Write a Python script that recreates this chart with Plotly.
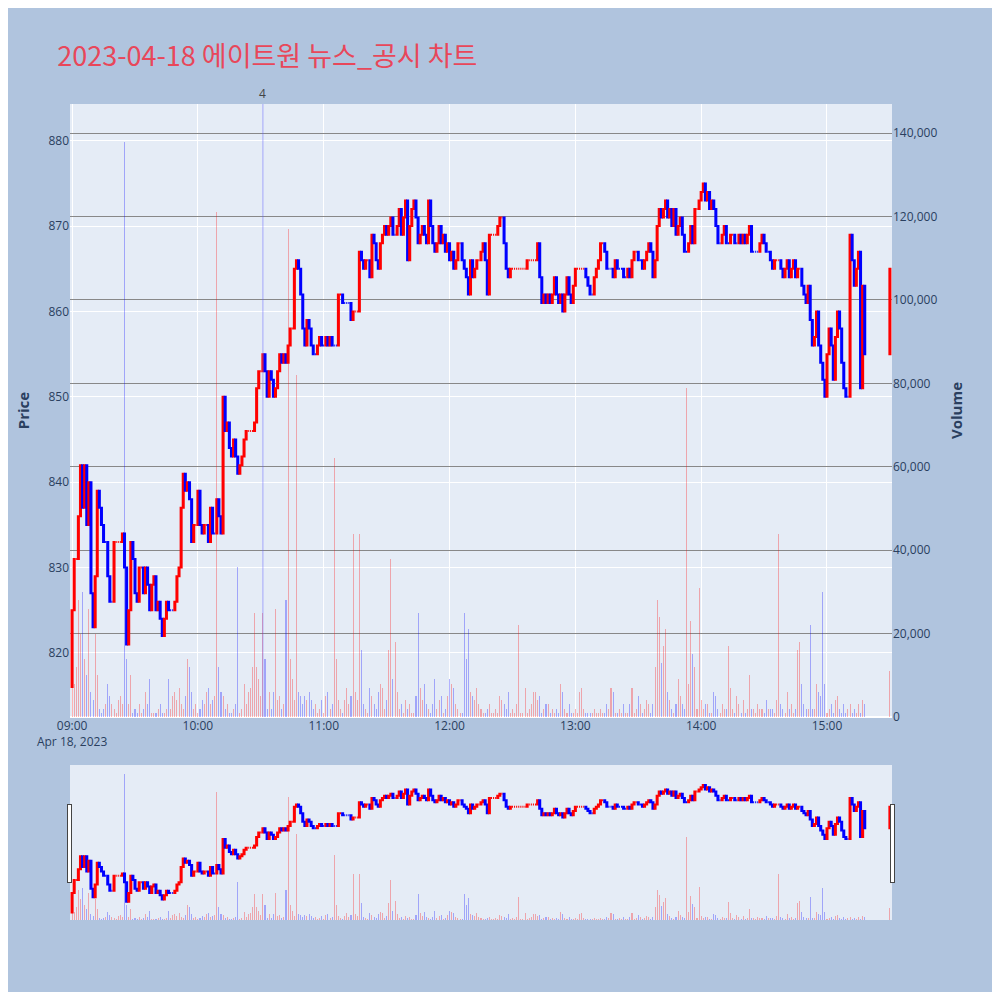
import plotly.graph_objects as go
import pandas as pd

closes = [
825,831,831,836,842,837,842,835,840,827,
823,829,839,837,835,833,833,829,826,826,
833,833,833,833,834,830,821,825,833,831,
827,826,830,830,827,830,828,825,828,829,
825,826,824,822,824,826,825,825,825,826,
829,830,837,841,839,840,838,833,835,835,
839,835,834,835,835,833,837,834,834,838,
836,834,850,846,847,844,843,845,843,841,
842,843,845,846,846,846,846,847,851,853,
853,855,853,850,853,852,850,851,853,855,
854,855,854,856,858,858,865,866,865,862,
858,856,859,858,856,855,855,856,857,856,
856,857,856,857,856,856,856,862,862,861,
861,861,861,859,860,860,860,867,866,865,
866,866,864,869,868,866,865,868,869,870,
869,870,871,869,869,870,872,869,871,873,
866,870,872,873,871,868,869,870,869,868,
873,870,868,867,868,870,868,869,867,868,
866,867,865,866,868,868,866,865,864,862,
866,864,865,866,866,867,868,866,862,869,
869,869,869,870,871,871,868,865,864,865,
865,865,865,865,865,865,865,866,866,866,
866,866,868,864,861,862,861,862,861,862,
864,862,861,862,860,862,864,862,861,863,
865,865,865,865,865,864,863,862,862,864,
865,866,868,868,867,865,865,865,864,866,
865,865,865,864,864,865,864,866,867,867,
866,866,865,866,867,868,867,864,866,870,
872,871,872,873,871,872,870,872,869,870,
871,869,867,867,868,870,868,872,872,873,
874,875,873,874,872,873,872,870,868,868,
869,870,868,868,869,869,868,868,869,868,
869,868,869,870,867,867,867,867,868,869,
868,867,867,866,865,866,866,866,865,864,
865,866,864,865,866,864,865,865,863,862,
861,863,859,856,857,860,856,854,852,850,
855,858,856,852,857,860,858,854,851,850,
850,869,866,863,865,867,851,863,855,
865]

volumes_k = [
18,8,12,28,20,30,14,10,26,6,
4,20,10,2,1,2,3,8,5,3,
2,1,4,5,3,138,14,3,10,1,
2,1,3,1,2,6,3,9,1,1,
1,2,3,1,1,2,9,2,5,6,
4,7,3,2,5,14,12,6,2,3,
1,2,4,3,6,7,3,4,5,121,
12,6,5,2,3,1,1,2,3,36,
1,2,8,3,6,7,12,25,12,9,
5,25,14,2,6,2,6,26,4,5,
2,3,28,117,14,9,4,82,6,5,
3,5,4,6,4,2,3,1,2,4,
1,5,6,2,3,62,14,4,2,1,
4,7,3,5,44,6,4,44,16,3,
2,1,7,5,3,2,6,8,7,2,
4,16,38,9,18,6,2,3,1,4,
2,3,1,1,5,25,7,4,8,3,
2,1,3,9,2,4,5,1,2,5,
9,8,7,3,2,1,1,25,14,21,
6,5,4,7,3,2,1,1,2,3,
1,1,2,1,5,4,3,2,6,1,
2,1,3,22,1,1,7,1,2,3,
6,6,4,5,1,2,3,3,1,2,
1,2,1,8,6,2,1,3,1,1,
2,1,6,7,2,1,1,1,1,2,
1,1,2,1,1,3,2,7,6,1,
1,2,1,3,1,1,3,7,1,2,
5,3,1,2,4,3,1,3,12,28,
24,13,17,21,6,4,2,1,3,9,
5,3,2,79,8,23,15,12,2,31,
4,2,3,3,1,1,6,5,2,1,
3,2,2,17,7,2,1,5,3,1,
4,1,2,10,2,2,1,3,2,2,
1,4,2,2,2,1,4,44,3,2,
1,6,2,3,1,2,16,18,8,3,
2,2,22,2,2,8,6,5,30,8,
1,2,3,1,4,5,2,1,3,1,
2,3,1,2,1,3,1,4,3,
11]

times = list(pd.date_range("2023-04-18 09:00", periods=len(closes) - 1, freq="min")) + [pd.Timestamp("2023-04-18 15:30")]
opens = [closes[0] - 9] + closes[:-1]
highs = [max(o, c) for o, c in zip(opens, closes)]
lows = [min(o, c) for o, c in zip(opens, closes)]
vols = [v * 1000 for v in volumes_k]
vcolors = ["rgba(255,0,0,0.3)" if c >= o else "rgba(0,0,255,0.3)" for o, c in zip(opens, closes)]

fig = go.Figure()
fig.add_trace(go.Bar(x=times, y=vols, marker_color=vcolors, marker_line_width=0, width=30000, yaxis="y2", name="Volume"))
fig.add_trace(go.Candlestick(x=times, open=opens, high=highs, low=lows, close=closes,
                             increasing=dict(line=dict(color="red"), fillcolor="red"),
                             decreasing=dict(line=dict(color="blue"), fillcolor="blue"), name="Price"))
news_time = pd.Timestamp("2023-04-18 10:31")
fig.add_shape(type="line", x0=news_time, x1=news_time, y0=0, y1=1, yref="paper", line=dict(color="rgba(100,100,255,0.5)", width=1))
fig.add_annotation(x=news_time, y=1, yref="paper", text="4", showarrow=False, yanchor="bottom", font=dict(size=12, color="#444"))

fig.update_layout(
    autosize=True,
    title=dict(text="2023-04-18 에이트원 뉴스_공시 차트", x=0.05, y=0.96, font=dict(size=27, color="#e8475a", family="Noto Sans CJK KR")),
    paper_bgcolor="#b0c4de", plot_bgcolor="#e5ecf6",
    showlegend=False, bargap=0,
    margin=dict(l=62, r=100, t=96, b=72),
    xaxis=dict(rangeslider=dict(visible=True, thickness=0.19), gridcolor="white", tickformat="%H:%M\n%b %d, %Y",
               range=[pd.Timestamp("2023-04-18 08:59"), pd.Timestamp("2023-04-18 15:31")]),
    yaxis=dict(title=dict(text="<b>Price</b>", font=dict(size=15, color="#2a3f5f")), range=[812.5, 884.3], gridcolor="white", side="left"),
    yaxis2=dict(title=dict(text="<b>Volume</b>", font=dict(size=15, color="#2a3f5f")), overlaying="y", side="right", range=[0, 147000],
                gridcolor="#888", tickformat=",d", showgrid=True),
    font=dict(color="#2a3f5f"),
)
fig.write_html("out.html", config={"responsive": True}, default_width="100%", default_height="100%")
